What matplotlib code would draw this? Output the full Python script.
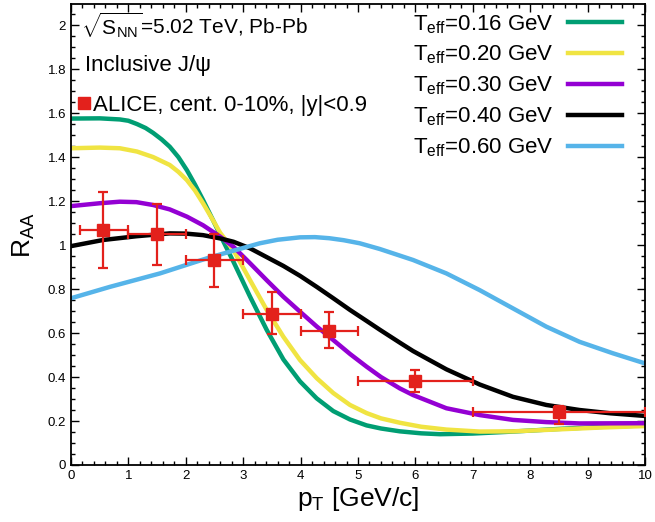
import matplotlib
matplotlib.use('Agg')
import matplotlib.pyplot as plt
from matplotlib.ticker import MultipleLocator, FuncFormatter
import numpy as np

plt.rcParams['font.family'] = ['Liberation Sans', 'DejaVu Sans']
plt.rcParams['mathtext.fontset'] = 'custom'
plt.rcParams['mathtext.rm'] = 'Liberation Sans'
plt.rcParams['mathtext.it'] = 'Liberation Sans:italic'
plt.rcParams['mathtext.sf'] = 'Liberation Sans'

# model curves, R_AA vs pT for several T_eff
x_016 = [0.0, 0.5, 0.85, 1.0, 1.15, 1.3, 1.43, 1.58, 1.72, 1.87, 2.02, 2.16, 2.3, 2.48, 2.6,
         2.83, 3.12, 3.41, 3.7, 3.99, 4.28, 4.57, 4.86, 5.15, 5.4, 5.73, 6.1, 6.43, 7.0, 7.7,
         8.5, 9.2, 10.0]
y_016 = [1.575, 1.576, 1.571, 1.565, 1.55, 1.532, 1.51, 1.48, 1.447, 1.40, 1.34, 1.275, 1.205,
         1.11, 1.045, 0.924, 0.765, 0.614, 0.48, 0.38, 0.303, 0.245, 0.207, 0.18, 0.166, 0.153,
         0.144, 0.14, 0.143, 0.152, 0.164, 0.173, 0.18]

x_020 = [0.0, 0.5, 0.85, 1.15, 1.43, 1.72, 1.87, 2.02, 2.16, 2.3, 2.48, 2.6, 2.83, 3.12, 3.41,
         3.7, 3.99, 4.28, 4.57, 4.86, 5.15, 5.4, 5.73, 6.1, 6.54, 7.12, 7.7, 8.5, 9.2, 10.0]
y_020 = [1.44, 1.443, 1.44, 1.425, 1.40, 1.364, 1.333, 1.295, 1.248, 1.19, 1.11, 1.055, 0.977,
         0.84, 0.705, 0.583, 0.477, 0.395, 0.327, 0.273, 0.236, 0.212, 0.192, 0.174, 0.161,
         0.152, 0.153, 0.162, 0.17, 0.177]

x_030 = [0.0, 0.5, 0.85, 1.14, 1.43, 1.72, 2.02, 2.3, 2.6, 2.83, 3.12, 3.41, 3.7, 3.99, 4.28,
         4.57, 4.86, 5.15, 5.4, 5.73, 5.96, 6.54, 7.12, 7.7, 8.28, 8.86, 10.0]
y_030 = [1.177, 1.19, 1.197, 1.195, 1.182, 1.162, 1.129, 1.09, 1.038, 0.992, 0.917, 0.84, 0.765,
         0.697, 0.63, 0.568, 0.505, 0.447, 0.40, 0.348, 0.318, 0.258, 0.227, 0.205, 0.195,
         0.189, 0.19]

x_040 = [0.0, 0.56, 1.14, 1.72, 2.0, 2.3, 2.6, 2.83, 3.12, 3.41, 3.7, 3.99, 4.28, 4.57, 4.86,
         5.15, 5.38, 5.73, 5.96, 6.54, 7.12, 7.7, 8.28, 8.86, 9.4, 10.0]
y_040 = [0.995, 1.023, 1.04, 1.053, 1.052, 1.045, 1.03, 1.015, 0.985, 0.945, 0.905, 0.86, 0.81,
         0.758, 0.705, 0.655, 0.615, 0.556, 0.518, 0.435, 0.366, 0.31, 0.273, 0.25, 0.235, 0.223]

x_060 = [0.0, 0.68, 1.55, 2.42, 3.29, 3.6, 3.99, 4.25, 4.5, 4.75, 5.03, 5.38, 5.96, 6.54, 7.12,
         7.7, 8.28, 8.86, 9.44, 10.0]
y_060 = [0.758, 0.81, 0.871, 0.944, 1.008, 1.024, 1.035, 1.036, 1.031, 1.022, 1.008, 0.982,
         0.932, 0.871, 0.795, 0.712, 0.629, 0.56, 0.508, 0.462]

# ALICE data
pt = [0.55, 1.5, 2.5, 3.5, 4.5, 6.0, 8.5]
pt_lo = [0.15, 1.0, 2.0, 3.0, 4.0, 5.0, 7.0]
pt_hi = [1.0, 2.0, 3.0, 4.0, 5.0, 7.0, 10.0]
raa = [1.07, 1.05, 0.93, 0.685, 0.61, 0.38, 0.24]
err_lo = [0.175, 0.14, 0.12, 0.09, 0.08, 0.05, 0.055]
err_hi = [0.17, 0.135, 0.12, 0.10, 0.085, 0.05, 0.03]

fig = plt.figure(figsize=(6.55, 5.22), dpi=100)
ax = fig.add_axes([0.1084, 0.1092, 0.8763, 0.8828])

ax.plot(x_016, y_016, color='#009E73', lw=3.2, label=r'T$_{\mathrm{eff}}$=0.16 GeV')
ax.plot(x_020, y_020, color='#F0E442', lw=3.2, label=r'T$_{\mathrm{eff}}$=0.20 GeV')
ax.plot(x_030, y_030, color='#9400D3', lw=3.2, label=r'T$_{\mathrm{eff}}$=0.30 GeV')
ax.plot(x_040, y_040, color='black', lw=3.2, label=r'T$_{\mathrm{eff}}$=0.40 GeV')
ax.plot(x_060, y_060, color='#56B4E9', lw=3.2, label=r'T$_{\mathrm{eff}}$=0.60 GeV')

pt = np.array(pt)
xerr = [pt - np.array(pt_lo), np.array(pt_hi) - pt]
eb = ax.errorbar(pt, raa, xerr=xerr, yerr=[err_lo, err_hi], fmt='s', color='#E3211C',
                 ms=8.5, elinewidth=1.6, capsize=3.5, capthick=1.6, zorder=5)

leg = ax.legend(loc='upper right', frameon=False, markerfirst=False, fontsize=16,
                handlelength=2.4, handletextpad=0.68, labelspacing=0.37,
                borderaxespad=0.0, bbox_to_anchor=(0.975, 1.0))
ax.add_artist(leg)
ax.legend([eb[0]], ['ALICE, cent. 0-10%, |y|<0.9'], loc='upper left', frameon=False,
          fontsize=16, handlelength=0.55, handletextpad=0.15,
          bbox_to_anchor=(-0.004, 0.822), borderaxespad=0.0)

ax.text(0.017, 0.987, r'$\sqrt{\mathrm{S}_{\mathrm{NN}}}$=5.02 TeV, Pb-Pb', transform=ax.transAxes,
        fontsize=15, va='top', ha='left')
ax.text(0.024, 0.89, 'Inclusive J/ψ', transform=ax.transAxes,
        fontsize=16, va='top', ha='left')

ax.set_xlim(0, 10)
ax.set_ylim(0, 2.095)
ax.xaxis.set_major_locator(MultipleLocator(1))
ax.xaxis.set_minor_locator(MultipleLocator(0.2))
ax.yaxis.set_major_locator(MultipleLocator(0.2))
ax.yaxis.set_minor_locator(MultipleLocator(0.05))
ax.yaxis.set_major_formatter(FuncFormatter(lambda v, p: '%g' % round(v, 2)))
ax.tick_params(which='both', direction='in', top=True, right=True, labelsize=9.5, width=1)
ax.tick_params(which='major', length=6)
ax.tick_params(which='minor', length=3)
for s in ax.spines.values():
    s.set_linewidth(1.3)

ax.set_xlabel(r'p$_{\mathrm{T}}$ [GeV/c]', fontsize=19, labelpad=2)
ax.set_ylabel(r'R$_{\mathrm{AA}}$', fontsize=19, labelpad=8)

fig.savefig('out.png', dpi=100)
